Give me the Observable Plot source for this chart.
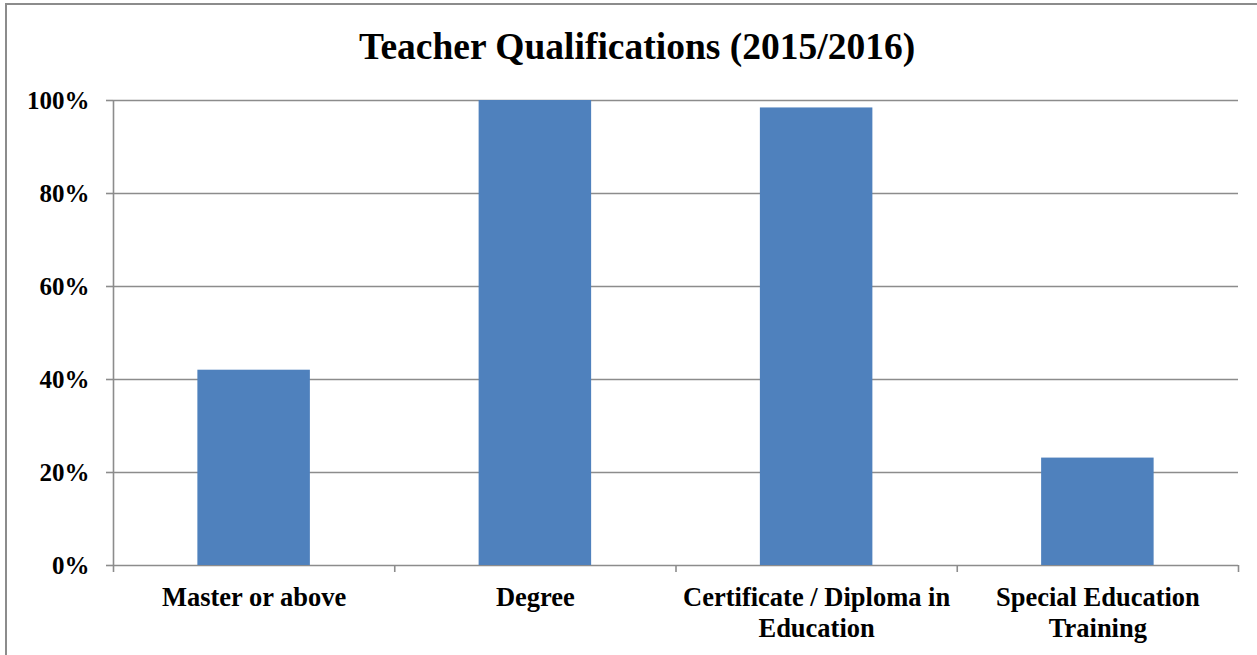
<!DOCTYPE html>
<html>
<head>
<meta charset="utf-8">
<script src="https://cdn.jsdelivr.net/npm/d3@7"></script>
<script src="https://cdn.jsdelivr.net/npm/@observablehq/plot@0.6"></script>
<style>
  html, body { margin: 0; padding: 0; background: #fff; overflow: hidden; }
  #wrap { position: relative; width: 1257px; height: 655px; overflow: hidden; }
  #frame { position: absolute; left: 5px; top: 3px; width: 1300px; height: 700px; border: 2px solid #8c8c8c; box-sizing: border-box; }
  #chart { position: absolute; left: 0; top: 0; }
</style>
</head>
<body>
<div id="wrap"><div id="frame"></div><div id="chart"></div></div>
<script>
const title = "Teacher Qualifications (2015/2016)";
const categories = ["Master or above", "Degree", "Certificate / Diploma in Education", "Special Education Training"];
const labels = ["Master or above", "Degree", "Certificate / Diploma in\nEducation", "Special Education\nTraining"];
const values = [0.42, 1.00, 0.984, 0.231];
const yTicks = [0, 0.2, 0.4, 0.6, 0.8, 1.0];

const data = categories.map((c, i) => ({category: c, label: labels[i], value: values[i], i}));
const boundaries = d3.range(categories.length + 1);
const gray = "#8c8c8c";
const font = "'Liberation Serif', 'Times New Roman', serif";

const chart = Plot.plot({
  width: 1257,
  height: 655,
  marginLeft: 113,
  marginRight: 19,
  marginTop: 100,
  marginBottom: 90,
  style: {fontFamily: font, fontSize: "25px", fontWeight: "bold", color: "black", background: "transparent"},
  x: {type: "linear", domain: [0, categories.length], label: null},
  y: {domain: [0, 1], label: null},
  marks: [
    Plot.gridY(yTicks, {stroke: gray, strokeOpacity: 1, strokeWidth: 1.6}),
    Plot.axisY(yTicks, {label: null, tickSize: 7, tickPadding: 17, stroke: gray, strokeWidth: 1.6, tickFormat: d => Math.round(d * 100) + "%", fontSize: 25, fontWeight: "bold", fill: "black"}),
    Plot.ruleX([0], {stroke: gray, strokeWidth: 1.6}),
    Plot.axisX(boundaries, {label: null, tickSize: 7, stroke: gray, strokeWidth: 1.6, tickFormat: () => ""}),
    Plot.rectY(data, {x1: d => d.i + 0.3, x2: d => d.i + 0.7, y1: 0, y2: "value", fill: "#4f81bd"}),
    Plot.text(data, {x: d => d.i + 0.5, text: "label", frameAnchor: "bottom", lineAnchor: "top", dy: 19, lineHeight: 1.15, fontSize: 26.5, fontWeight: "bold", fill: "black"}),
    Plot.text([title], {frameAnchor: "top", lineAnchor: "top", dx: -39, dy: -68, fontSize: 37.5, fontWeight: "bold", fill: "black"})
  ]
});
document.getElementById("chart").appendChild(chart);
</script>
</body>
</html>
